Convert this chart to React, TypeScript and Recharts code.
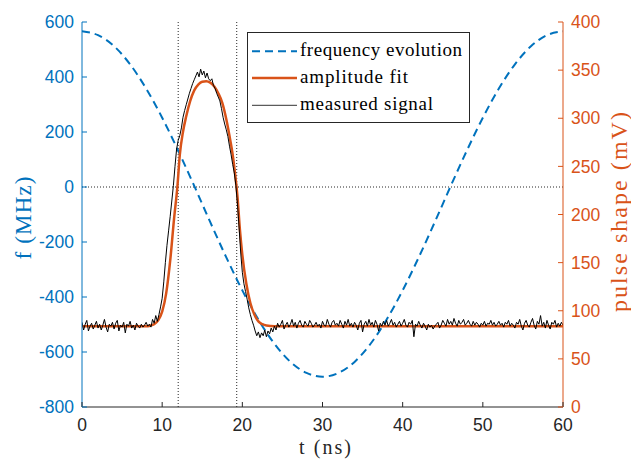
import React from 'react';
import { ComposedChart, Line, XAxis, YAxis, ReferenceLine, Legend } from 'recharts';

const BLUE = '#0072BD';
const ORANGE = '#D95319';
const DARK = '#262626';
const SANS = '"Liberation Sans", Arial, sans-serif';
const SERIF = '"Liberation Serif", "Times New Roman", serif';

const xTicks = [0, 10, 20, 30, 40, 50, 60];
const fTicks = [-800, -600, -400, -200, 0, 200, 400, 600];
const mvTicks = [0, 50, 100, 150, 200, 250, 300, 350, 400];
const markerTimes = [12, 19.3];

// frequency evolution (MHz)
const freqT = [0, 2, 4, 6, 8, 10, 12, 14, 16, 18, 20, 22, 24, 26, 28, 30, 32, 34, 36, 38, 40, 42, 44, 46, 48, 50, 52, 54, 56, 58, 60];
const freqV = [566, 552, 512, 446, 358, 252, 132, 4, -128, -256, -376, -482, -570, -636, -676, -690, -676, -636, -570, -482, -376, -256, -128, 4, 132, 252, 358, 446, 512, 552, 566];

// amplitude fit (mV)
const fitT = [0, 8, 8.5, 9, 9.5, 10, 10.5, 11, 11.5, 11.9, 12.2, 12.6, 13, 13.5, 14, 14.5, 15, 15.5, 16, 16.5, 17, 17.5, 18, 18.5, 18.8, 19.1, 19.4, 19.7, 20, 20.5, 21, 21.5, 22, 22.5, 23, 24, 60];
const fitV = [84, 84, 84.5, 86, 90, 99, 118, 152, 197, 229, 262, 286, 302, 318, 329, 335, 338, 338.5, 337, 333, 326, 316, 299, 277, 262, 242, 218, 184, 158, 128, 108, 96, 89, 86, 84.7, 84, 84];

// measured signal (mV), one sample every 0.2 ns from 0 to 60 ns
const measStep = 0.2;
const measV = [
  88, 80, 86, 90, 79, 84, 87, 81, 85, 89,
  82, 86, 80, 85, 91, 83, 78, 86, 84, 88,
  81, 87, 90, 79, 85, 83, 88, 77, 86, 84,
  89, 82, 85, 80, 87, 84, 82, 86, 83, 85,
  88, 84, 86, 83, 91, 87, 95, 89, 96, 104,
  113, 130, 150, 168, 183, 198, 214, 230, 250, 268,
  277, 282, 290, 301, 308, 314, 320, 326, 331, 336,
  340, 344, 348, 343, 351, 345, 349, 342, 347, 341,
  339, 341, 334, 331, 326, 322, 318, 310, 301, 294,
  288, 281, 271, 262, 252, 243, 230, 210, 186, 160,
  140, 128, 120, 112, 103, 96, 90, 85, 79, 74,
  78, 72, 77, 74, 80, 73, 79, 76, 82, 78,
  84, 80, 87, 83, 86, 90, 81, 85, 88, 83,
  86, 91, 84, 88, 82, 87, 90, 85, 83, 89,
  86, 84, 90, 87, 83, 85, 88, 84, 86, 82,
  89, 85, 84, 91, 86, 83, 88, 90, 85, 87,
  84, 90, 86, 82, 89, 85, 91, 84, 87, 83,
  88, 85, 80, 87, 90, 78, 86, 89, 84, 91,
  85, 88, 83, 90, 86, 79, 87, 84, 89, 85,
  90, 84, 87, 91, 85, 88, 83, 86, 89, 84,
  87, 91, 85, 83, 88, 86, 90, 73, 86, 84,
  89, 85, 82, 87, 84, 80, 86, 83, 85, 81,
  84, 86, 88, 82, 85, 90, 87, 84, 91, 86,
  89, 85, 92, 87, 84, 90, 86, 88, 91, 85,
  87, 90, 86, 84, 89, 85, 88, 86, 83, 87,
  85, 89, 84, 87, 86, 90, 85, 88, 84, 86,
  89, 85, 87, 83, 88, 86, 90, 84, 87, 85,
  82, 88, 86, 91, 84, 80, 87, 90, 85, 83,
  88, 92, 85, 81, 89, 86, 95, 84, 88, 82,
  90, 85, 81, 88, 86, 90, 83, 87, 84, 88,
  85,
];

const legendLabels = ['frequency evolution', 'amplitude fit', 'measured signal'];

const freqData = freqT.map((t, i) => ({ t, f: freqV[i] }));
const fitData = fitT.map((t, i) => ({ t, mv: fitV[i] }));
const measData = measV.map((v, i) => ({ t: Math.round(i * measStep * 10) / 10, mv: v }));

const TICK_FS = 17.5;
const TL = 5;

const BottomTick = (props: any) => {
  const { x, y, payload } = props;
  const m = 12;
  return (
    <g>
      <line x1={x} x2={x} y1={y - m} y2={y - m - TL} stroke={DARK} strokeWidth={1} />
      <text x={x} y={y} dy="0.71em" textAnchor="middle" fill={DARK} fontSize={TICK_FS} fontFamily={SANS}>
        {payload.value}
      </text>
    </g>
  );
};

const TopTick = (props: any) => {
  const { x, y } = props;
  return <line x1={x} x2={x} y1={y} y2={y + TL} stroke={DARK} strokeWidth={1} />;
};

const LeftTick = (props: any) => {
  const { x, y, payload } = props;
  const m = 8;
  return (
    <g>
      <line x1={x + m} x2={x + m + TL} y1={y} y2={y} stroke={BLUE} strokeWidth={1} />
      <text x={x} y={y} dy="0.355em" textAnchor="end" fill={BLUE} fontSize={TICK_FS} fontFamily={SANS}>
        {payload.value}
      </text>
    </g>
  );
};

const RightTick = (props: any) => {
  const { x, y, payload } = props;
  const m = 8;
  return (
    <g>
      <line x1={x - m} x2={x - m - TL} y1={y} y2={y} stroke={ORANGE} strokeWidth={1} />
      <text x={x} y={y} dy="0.355em" textAnchor="start" fill={ORANGE} fontSize={TICK_FS} fontFamily={SANS}>
        {payload.value}
      </text>
    </g>
  );
};

const LegendBox = () => {
  const rowY = [19.3, 46, 73.3];
  return (
    <svg width={224} height={92} style={{ display: 'block' }}>
      <rect x={0.5} y={0.5} width={222} height={90} fill="#ffffff" stroke={DARK} strokeWidth={1} />
      <line x1={5} x2={50} y1={rowY[0]} y2={rowY[0]} stroke={BLUE} strokeWidth={2} strokeDasharray="8 5" />
      <line x1={5} x2={50} y1={rowY[1]} y2={rowY[1]} stroke={ORANGE} strokeWidth={2.5} />
      <line x1={5} x2={50} y1={rowY[2]} y2={rowY[2]} stroke="#333333" strokeWidth={1} />
      {legendLabels.map((s, i) => (
        <text key={s} x={53} y={rowY[i] + 4.5} fontSize={19} fontFamily={SERIF} fill="#000"
          textLength={[162, 108, 133][i]} lengthAdjust="spacing">
          {s}
        </text>
      ))}
    </svg>
  );
};

export default function App() {
  return (
    <div style={{ position: 'absolute', left: 0, top: 0, width: 631, height: 461, background: '#fff' }}>
      <ComposedChart width={631} height={461} margin={{ top: 22, right: 0, bottom: 0, left: 0 }}>
        <XAxis
          xAxisId="b"
          dataKey="t"
          type="number"
          domain={[0, 60]}
          ticks={xTicks}
          allowDataOverflow
          height={54}
          tickSize={0}
          tickMargin={12}
          tickLine={false}
          axisLine={{ stroke: DARK, strokeWidth: 1 }}
          tick={BottomTick}
          interval={0}
          label={() => (
            <text x={325} y={454} textAnchor="middle" fontSize={20} fontFamily={SERIF} fill={DARK}
              textLength={52} lengthAdjust="spacing">
              t (ns)
            </text>
          )}
        />
        <XAxis
          xAxisId="top"
          orientation="top"
          dataKey="t"
          type="number"
          domain={[0, 60]}
          ticks={xTicks}
          allowDataOverflow
          height={0}
          tickSize={0}
          tickMargin={0}
          tickLine={false}
          axisLine={{ stroke: DARK, strokeWidth: 1 }}
          tick={TopTick}
          interval={0}
        />
        <YAxis
          yAxisId="f"
          type="number"
          domain={[-800, 600]}
          ticks={fTicks}
          allowDataOverflow
          width={82}
          tickSize={0}
          tickMargin={8}
          tickLine={false}
          axisLine={{ stroke: BLUE, strokeWidth: 1 }}
          tick={LeftTick}
          interval={0}
          label={() => (
            <text x={31} y={218} transform="rotate(-90 31 218)" textAnchor="middle" fontSize={23}
              fontFamily={SERIF} fill={BLUE} textLength={83} lengthAdjust="spacing">
              f (MHz)
            </text>
          )}
        />
        <YAxis
          yAxisId="mv"
          orientation="right"
          type="number"
          domain={[0, 400]}
          ticks={mvTicks}
          allowDataOverflow
          width={68}
          tickSize={0}
          tickMargin={8}
          tickLine={false}
          axisLine={{ stroke: ORANGE, strokeWidth: 1 }}
          tick={RightTick}
          interval={0}
          label={() => (
            <text x={627} y={212} transform="rotate(-90 627 212)" textAnchor="middle" fontSize={24}
              fontFamily={SERIF} fill={ORANGE} textLength={200} lengthAdjust="spacing">
              pulse shape (mV)
            </text>
          )}
        />
        <ReferenceLine xAxisId="b" yAxisId="f" y={0} stroke={DARK} strokeWidth={1} strokeDasharray="1 2" />
        {markerTimes.map((t) => (
          <ReferenceLine key={t} xAxisId="b" yAxisId="f" x={t} stroke={DARK} strokeWidth={1} strokeDasharray="1 2" />
        ))}
        <Line
          data={freqData}
          xAxisId="b"
          yAxisId="f"
          dataKey="f"
          type="monotone"
          stroke={BLUE}
          strokeWidth={2}
          strokeDasharray="8 5"
          dot={false}
          activeDot={false}
          isAnimationActive={false}
          name={legendLabels[0]}
        />
        <Line
          data={fitData}
          xAxisId="b"
          yAxisId="mv"
          dataKey="mv"
          type="monotone"
          stroke={ORANGE}
          strokeWidth={2.5}
          dot={false}
          activeDot={false}
          isAnimationActive={false}
          name={legendLabels[1]}
        />
        <Line
          data={measData}
          xAxisId="b"
          yAxisId="mv"
          dataKey="mv"
          type="linear"
          stroke="#000000"
          strokeWidth={1}
          dot={false}
          activeDot={false}
          isAnimationActive={false}
          name={legendLabels[2]}
        />
        <Legend
          layout="horizontal"
          verticalAlign="middle"
          align="center"
          content={() => <LegendBox />}
          wrapperStyle={{ position: 'absolute', left: 247, top: 32, width: 224, height: 92 }}
        />
      </ComposedChart>
    </div>
  );
}
